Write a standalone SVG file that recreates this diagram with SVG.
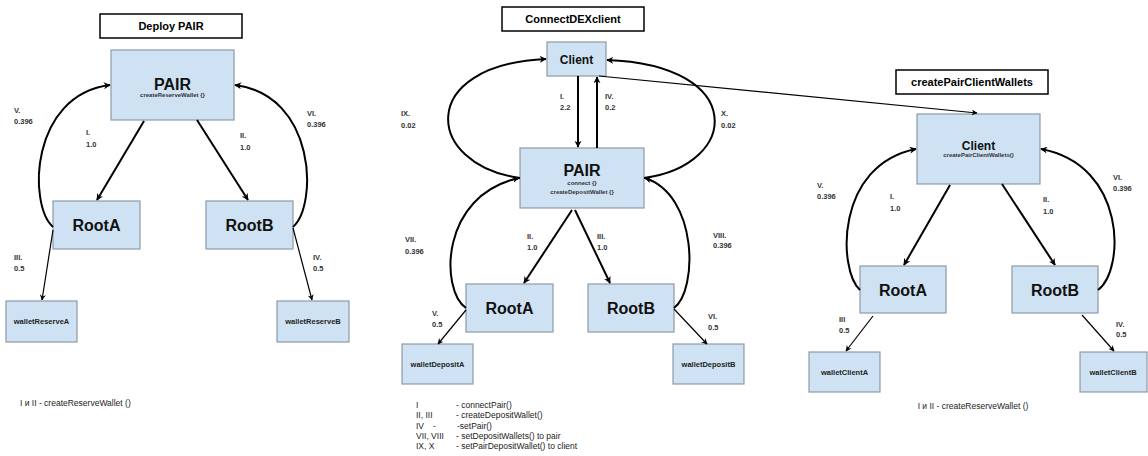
<svg xmlns="http://www.w3.org/2000/svg" width="1148" height="456" viewBox="0 0 1148 456">
<defs>
<marker id="ah" viewBox="0 0 10 10" refX="9" refY="5" markerWidth="7" markerHeight="7" orient="auto" markerUnits="userSpaceOnUse">
<path d="M0,0 L10,5 L0,10 L3,5 z" fill="#000"/>
</marker>
<marker id="ahs" viewBox="0 0 10 10" refX="9" refY="5" markerWidth="6" markerHeight="6" orient="auto" markerUnits="userSpaceOnUse">
<path d="M0,0 L10,5 L0,10 L3,5 z" fill="#000"/>
</marker>
<style>
.node{fill:#cfe2f3;stroke:#8d9aa8;stroke-width:1.2}
.title{fill:#fff;stroke:#000;stroke-width:1.5}
.tt{font-family:"Liberation Sans",Arial,sans-serif;font-weight:bold;font-size:11px;fill:#000;text-anchor:middle}
.big{font-family:"Liberation Sans",Arial,sans-serif;font-weight:bold;font-size:16px;fill:#111;text-anchor:middle}
.mid{font-family:"Liberation Sans",Arial,sans-serif;font-weight:bold;font-size:12px;fill:#111;text-anchor:middle}
.sm{font-family:"Liberation Sans",Arial,sans-serif;font-weight:bold;font-size:6px;fill:#333;text-anchor:middle}
.wl{font-family:"Liberation Sans",Arial,sans-serif;font-weight:bold;font-size:7.5px;fill:#222;text-anchor:middle}
.el{font-family:"Liberation Sans",Arial,sans-serif;font-weight:bold;font-size:7.5px;fill:#333}
.ft{font-family:"Liberation Sans",Arial,sans-serif;font-size:8.5px;fill:#222}
.c{fill:none;stroke:#000;stroke-width:2}
.t{fill:none;stroke:#000;stroke-width:1.2}
</style>
</defs>

<!-- Titles -->
<g id="title-deploy"><rect class="title" x="100" y="14" width="142" height="24"/><text class="tt" x="171" y="30">Deploy PAIR</text></g>
<g id="title-connect"><rect class="title" x="502" y="7" width="142" height="24"/><text class="tt" x="573" y="23">ConnectDEXclient</text></g>
<g id="title-create"><rect class="title" x="896" y="70" width="152" height="24"/><text class="tt" x="972" y="86">createPairClientWallets</text></g>

<!-- Left diagram nodes -->
<g id="l-pair"><rect class="node" x="111" y="50" width="123" height="70"/><text class="big" x="172.5" y="90">PAIR</text><text class="sm" x="172.5" y="97">createReserveWallet {}</text></g>
<g id="l-rootA"><rect class="node" x="53" y="201" width="87" height="48"/><text class="big" x="96.5" y="231">RootA</text></g>
<g id="l-rootB"><rect class="node" x="206" y="201" width="87" height="48"/><text class="big" x="249.5" y="231">RootB</text></g>
<g id="l-walletA"><rect class="node" x="6" y="301" width="71" height="41"/><text class="wl" x="41.5" y="324">walletReserveA</text></g>
<g id="l-walletB"><rect class="node" x="277" y="301" width="72" height="41"/><text class="wl" x="313" y="324">walletReserveB</text></g>

<!-- Middle diagram nodes -->
<g id="m-client"><rect class="node" x="547" y="42" width="59" height="34"/><text class="mid" x="576.5" y="64">Client</text></g>
<g id="m-pair"><rect class="node" x="520" y="148" width="124" height="60"/><text class="big" x="582" y="176">PAIR</text><text class="sm" x="582" y="185">connect {}</text><text class="sm" x="582" y="194">createDepositWallet {}</text></g>
<g id="m-rootA"><rect class="node" x="466" y="284" width="87" height="48"/><text class="big" x="509.5" y="314">RootA</text></g>
<g id="m-rootB"><rect class="node" x="588" y="284" width="86" height="48"/><text class="big" x="631" y="314">RootB</text></g>
<g id="m-walletA"><rect class="node" x="402" y="344" width="71" height="40"/><text class="wl" x="437.5" y="367">walletDepositA</text></g>
<g id="m-walletB"><rect class="node" x="673" y="344" width="71" height="40"/><text class="wl" x="708.5" y="367">walletDepositB</text></g>

<!-- Right diagram nodes -->
<g id="r-client"><rect class="node" x="917" y="114" width="123" height="70"/><text class="mid" x="978.5" y="150">Client</text><text class="sm" x="978.5" y="157">createPairClientWallets()</text></g>
<g id="r-rootA"><rect class="node" x="860" y="266" width="86" height="47"/><text class="big" x="903" y="296">RootA</text></g>
<g id="r-rootB"><rect class="node" x="1012" y="266" width="86" height="47"/><text class="big" x="1055" y="296">RootB</text></g>
<g id="r-walletA"><rect class="node" x="809" y="352" width="71" height="40"/><text class="wl" x="844.5" y="375">walletClientA</text></g>
<g id="r-walletB"><rect class="node" x="1080" y="352" width="67" height="40"/><text class="wl" x="1113" y="375">walletClientB</text></g>

<!-- Connectors -->
<g id="connectors">
<!-- left -->
<line class="c" x1="144" y1="121" x2="97" y2="200" marker-end="url(#ah)"/>
<line class="c" x1="197" y1="120" x2="248" y2="200" marker-end="url(#ah)"/>
<path class="c" d="M53,227 C28,205 30,95 110,85" marker-end="url(#ah)"/>
<path class="c" d="M293,227 C318,205 316,95 235,85" marker-end="url(#ah)"/>
<line class="t" x1="53" y1="230" x2="42" y2="300" marker-end="url(#ahs)"/>
<line class="t" x1="293" y1="228" x2="312" y2="300" marker-end="url(#ahs)"/>
<!-- middle -->
<line class="c" x1="578" y1="76" x2="578" y2="147" marker-end="url(#ah)"/>
<line class="c" x1="597" y1="148" x2="597" y2="77" marker-end="url(#ah)"/>
<path class="c" d="M520,178 C425,165 415,65 546,59" marker-end="url(#ah)"/>
<path class="c" d="M644,178 C740,165 748,65 607,60" marker-end="url(#ah)"/>
<path class="c" d="M466,308 C440,290 440,195 519,178" marker-end="url(#ah)"/>
<path class="c" d="M674,308 C698,290 698,195 645,178" marker-end="url(#ah)"/>
<line class="c" x1="572" y1="210" x2="524" y2="283" marker-end="url(#ah)"/>
<line class="c" x1="575" y1="210" x2="610" y2="283" marker-end="url(#ah)"/>
<line class="t" x1="466" y1="310" x2="438" y2="344" marker-end="url(#ahs)"/>
<line class="t" x1="674" y1="309" x2="707" y2="344" marker-end="url(#ahs)"/>
<line class="t" x1="599" y1="76" x2="977" y2="113" marker-end="url(#ahs)"/>
<!-- right -->
<line class="c" x1="950" y1="185" x2="904" y2="265" marker-end="url(#ah)"/>
<line class="c" x1="1002" y1="184" x2="1055" y2="265" marker-end="url(#ah)"/>
<path class="c" d="M860,290 C838,270 835,165 916,149" marker-end="url(#ah)"/>
<path class="c" d="M1098,290 C1125,270 1127,165 1041,149" marker-end="url(#ah)"/>
<line class="t" x1="873" y1="316" x2="846" y2="351" marker-end="url(#ahs)"/>
<line class="t" x1="1082" y1="315" x2="1114" y2="351" marker-end="url(#ahs)"/>
</g>

<!-- Edge labels -->
<g id="labels">
<text class="el" x="86" y="135">I.</text><text class="el" x="86" y="147">1.0</text>
<text class="el" x="240" y="138">II.</text><text class="el" x="240" y="150">1.0</text>
<text class="el" x="14" y="113">V.</text><text class="el" x="14" y="124">0.396</text>
<text class="el" x="307" y="116">VI.</text><text class="el" x="307" y="127">0.396</text>
<text class="el" x="14" y="260">III.</text><text class="el" x="14" y="271">0.5</text>
<text class="el" x="313" y="260">IV.</text><text class="el" x="313" y="271">0.5</text>

<text class="el" x="560" y="99">I.</text><text class="el" x="560" y="110">2.2</text>
<text class="el" x="605" y="99">IV.</text><text class="el" x="605" y="110">0.2</text>
<text class="el" x="401" y="116">IX.</text><text class="el" x="401" y="128">0.02</text>
<text class="el" x="721" y="116">X.</text><text class="el" x="721" y="128">0.02</text>
<text class="el" x="405" y="242">VII.</text><text class="el" x="405" y="254">0.396</text>
<text class="el" x="713" y="238">VIII.</text><text class="el" x="713" y="248">0.396</text>
<text class="el" x="527" y="239">II.</text><text class="el" x="527" y="250">1.0</text>
<text class="el" x="597" y="239">III.</text><text class="el" x="597" y="250">1.0</text>
<text class="el" x="432" y="316">V.</text><text class="el" x="432" y="327">0.5</text>
<text class="el" x="708" y="319">VI.</text><text class="el" x="708" y="330">0.5</text>

<text class="el" x="890" y="199">I.</text><text class="el" x="890" y="211">1.0</text>
<text class="el" x="1043" y="202">II.</text><text class="el" x="1043" y="214">1.0</text>
<text class="el" x="817" y="188">V.</text><text class="el" x="817" y="199">0.396</text>
<text class="el" x="1113" y="180">VI.</text><text class="el" x="1113" y="191">0.396</text>
<text class="el" x="839" y="322">III</text><text class="el" x="839" y="333">0.5</text>
<text class="el" x="1116" y="327">IV.</text><text class="el" x="1116" y="337">0.5</text>
</g>

<!-- Footers / legend -->
<g id="legend">
<text class="ft" x="20" y="406">I и II - createReserveWallet ()</text>
<text class="ft" x="973" y="409" text-anchor="middle">I и II - createReserveWallet ()</text>
<text class="ft" x="416" y="408">I</text><text class="ft" x="456" y="408">- connectPair()</text>
<text class="ft" x="416" y="418">II, III</text><text class="ft" x="456" y="418">- createDepositWallet()</text>
<text class="ft" x="416" y="429">IV</text><text class="ft" x="433" y="429">-</text><text class="ft" x="457" y="429">-setPair()</text>
<text class="ft" x="416" y="439">VII, VIII</text><text class="ft" x="456" y="439">- setDepositWallets() to pair</text>
<text class="ft" x="416" y="449">IX, X</text><text class="ft" x="456" y="449">- setPairDepositWallet() to client</text>
</g>
</svg>
